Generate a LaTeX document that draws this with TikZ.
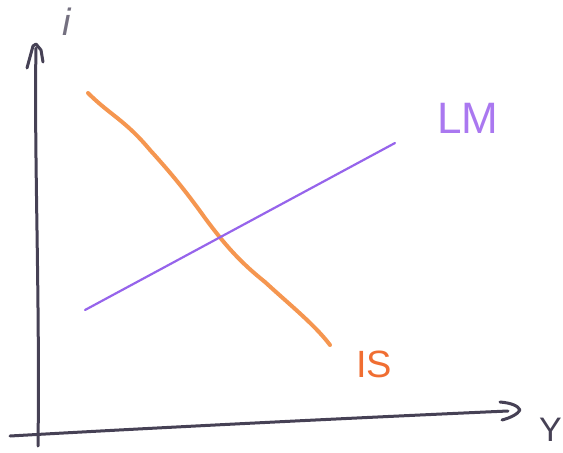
\documentclass[tikz,border=0pt]{standalone}
\usepackage{fontspec}
\setmainfont{Liberation Sans}
\usetikzlibrary{arrows.meta}
\definecolor{axisgray}{RGB}{70,65,85}
\definecolor{isorange}{RGB}{245,150,80}
\definecolor{isred}{RGB}{240,110,50}
\definecolor{lmpurple}{RGB}{150,100,235}
\definecolor{lmlight}{RGB}{170,120,240}
\begin{document}
\begin{tikzpicture}[x=1pt,y=-1pt,
  axis/.style={draw=axisgray,line width=3pt,line cap=round,line join=round},
  curveis/.style={draw=isorange,line width=4pt,line cap=round,line join=round},
  curvelm/.style={draw=lmpurple,line width=2.2pt,line cap=round},
  lbl/.style={inner sep=0pt,font=\fontsize{40}{40}\selectfont}]
\useasboundingbox (0,0) rectangle (563,453);
% axes
\coordinate (yb) at (38,446);
\coordinate (yt) at (36,48);
\coordinate (xl) at (10,436);
\coordinate (xr) at (508,411);
\draw[axis] (yb) .. controls (40,300) and (34,150) .. (yt);
\draw[axis] (27,68) -- (33,46) -- (36,44) -- (41,50) -- (43,62);
\draw[axis] (xl) .. controls (150,428) and (350,418) .. (xr);
\draw[axis] (500,402) .. controls (512,403) and (518,406) .. (520,410) .. controls (518,414) and (510,418) .. (502,420);
% IS curve
\draw[curveis] (88,93) .. controls (110,115) and (125,120) .. (150,150)
  .. controls (170,172) and (185,190) .. (205,218)
  .. controls (225,245) and (240,262) .. (265,282)
  .. controls (290,305) and (315,325) .. (330,345);
% LM curve
\draw[curvelm] (85,310) -- (395,143);
% labels
\node[lbl,text=axisgray!75,font=\fontsize{38}{38}\selectfont\itshape] (ilab) at (67,22) {i};
\node[lbl,text=lmlight,font=\fontsize{44}{44}\selectfont] (lmlab) at (468,118) {LM};
\node[lbl,text=isred,font=\fontsize{38}{38}\selectfont] (islab) at (374,364) {IS};
\node[lbl,text=axisgray,anchor=east,font=\fontsize{34}{34}\selectfont] (ylab) at (562,430) {Y};
\end{tikzpicture}
\end{document}
